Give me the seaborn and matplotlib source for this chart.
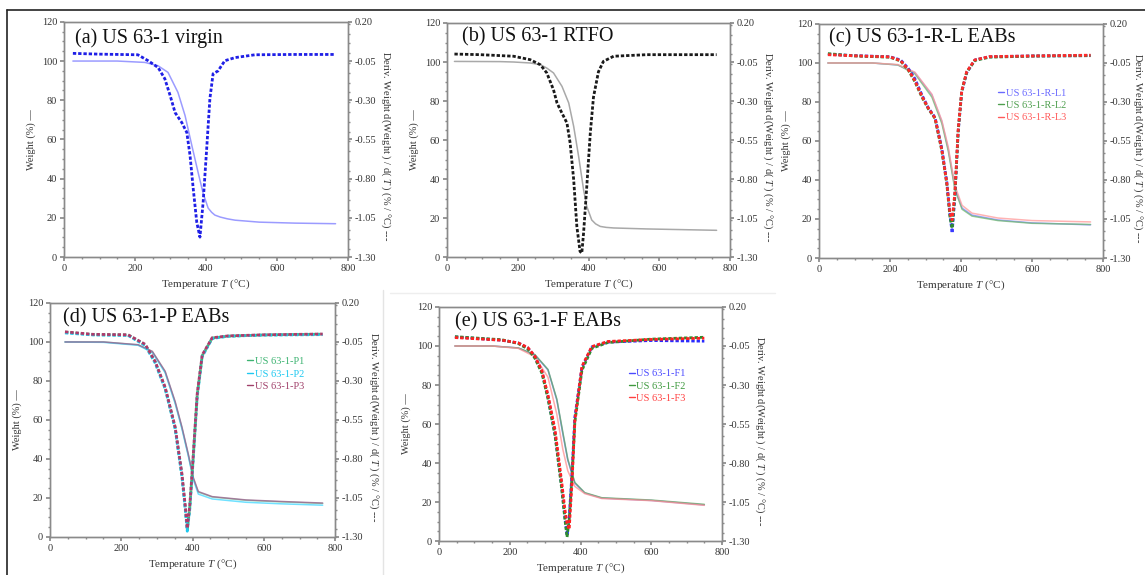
import numpy as np
import matplotlib
matplotlib.use("Agg")
import matplotlib.pyplot as plt
from matplotlib.lines import Line2D
from matplotlib.ticker import MultipleLocator, FormatStrFormatter
import seaborn as sns

# ==========================================
# DATOS LEÍDOS DE LAS CURVAS TGA / DTG
# (peso en %, derivada en %/°C)
# ==========================================

# (a) US 63-1 virgin
t_a_deriv = [25, 100, 208, 237, 265, 284, 299, 313, 332, 346, 355, 364, 374, 383,
             392, 402, 411, 420, 434, 453, 482, 538, 650, 765]
deriv_a = [-0.001, -0.006, -0.010, -0.048, -0.091, -0.163, -0.270, -0.379, -0.443,
           -0.506, -0.651, -0.863, -1.078, -1.173, -0.950, -0.608, -0.290, -0.131,
           -0.113, -0.048, -0.028, -0.010, -0.008, -0.008]
t_a_peso = [25, 150, 228, 265, 293, 321, 341, 360, 378, 392, 406, 416, 425, 440, 460,
            482, 550, 650, 765]
peso_a = [100, 100, 99.3, 97.6, 94.2, 84, 72.2, 57, 43, 32.5, 25, 22.8, 21.4, 20.4,
          19.5, 18.8, 17.8, 17.3, 17]

# (b) US 63-1 RTFO
t_b_deriv = [21, 94, 188, 235, 264, 282, 301, 311, 325, 339, 348, 358, 367, 376,
             381, 386, 395, 405, 414, 428, 442, 471, 565, 762]
deriv_b = [0.001, -0.003, -0.013, -0.035, -0.068, -0.120, -0.228, -0.313, -0.378,
           -0.441, -0.569, -0.804, -1.104, -1.264, -1.275, -1.146, -0.850, -0.505,
           -0.275, -0.113, -0.046, -0.013, -0.003, -0.003]
t_b_peso = [21, 150, 188, 235, 264, 282, 301, 325, 344, 358, 372, 386, 395, 409, 420,
            433, 450, 471, 565, 762]
peso_b = [100.3, 100.2, 100, 99.5, 98.6, 96.9, 94.4, 87.5, 79, 67, 51.6, 34.5, 26, 19,
          17, 15.7, 15.2, 14.9, 14.4, 13.7]

# (c) US 63-1-R-L EABs
t_c_deriv = [25, 100, 200, 230, 251, 270, 290, 308, 327, 346, 360, 369, 375, 383,
             392, 402, 416, 439, 480, 600, 765]
deriv_c_l1 = [0.006, -0.003, -0.010, -0.031, -0.083, -0.150, -0.255, -0.338, -0.400,
              -0.600, -0.813, -1.025, -1.140, -0.900, -0.493, -0.238, -0.113, -0.031,
              -0.010, -0.005, -0.003]
deriv_c_l2 = [0.010, -0.005, -0.013, -0.038, -0.094, -0.169, -0.269, -0.344, -0.406,
              -0.613, -0.825, -1.038, -1.110, -0.888, -0.488, -0.231, -0.110, -0.034,
              -0.013, -0.006, -0.003]
deriv_c_l3 = [0.003, -0.004, -0.011, -0.035, -0.090, -0.163, -0.263, -0.340, -0.403,
              -0.606, -0.819, -1.013, -1.056, -0.875, -0.481, -0.231, -0.106, -0.030,
              -0.009, -0.005, 0.000]
t_c_peso = [25, 100, 150, 222, 270, 318, 346, 364, 383, 403, 431, 504, 600, 765]
peso_c_l1 = [100, 100, 100, 99, 95, 83.6, 70, 56, 36, 25.6, 22, 19.5, 18, 17]
peso_c_l2 = [100, 100, 100, 99, 94.5, 82.5, 69, 55, 35, 25, 21.5, 19.2, 17.8, 17.2]
peso_c_l3 = [100, 100, 100, 99.2, 95.3, 84, 70.5, 57, 37, 27, 23, 20.5, 19.2, 18.5]

# (d) US 63-1-P EABs
t_d_deriv = [42, 120, 219, 267, 295, 323, 351, 370, 380, 385, 392, 399, 413, 427,
             455, 500, 600, 765]
deriv_d_p1 = [0.013, -0.003, -0.005, -0.069, -0.179, -0.345, -0.600, -0.903, -1.125,
              -1.256, -1.113, -0.888, -0.390, -0.138, -0.025, -0.013, -0.005, 0.000]
deriv_d_p2 = [0.008, -0.005, -0.008, -0.073, -0.185, -0.350, -0.606, -0.913, -1.138,
              -1.263, -1.125, -0.900, -0.400, -0.144, -0.028, -0.013, -0.006, -0.003]
deriv_d_p3 = [0.015, -0.001, -0.004, -0.065, -0.175, -0.340, -0.594, -0.894, -1.113,
              -1.244, -1.100, -0.875, -0.381, -0.133, -0.023, -0.011, -0.004, 0.001]
t_d_peso = [42, 150, 247, 287, 323, 351, 370, 388, 402, 416, 455, 550, 650, 765]
peso_d_p1 = [100, 100, 98.5, 95, 84.6, 69, 56, 42, 30, 23, 20.5, 18.8, 18, 17.2]
peso_d_p2 = [100, 99.8, 98.3, 94.7, 84.2, 68.5, 55.5, 41.5, 29.5, 22, 19.5, 17.8, 17, 16.3]
peso_d_p3 = [100, 100, 98.6, 95.2, 85, 69.5, 56.5, 42.5, 30.5, 23.3, 20.7, 19, 18.2, 17.4]

# (e) US 63-1-F EABs
t_e_deriv = [45, 178, 224, 251, 271, 291, 308, 328, 347, 356, 362, 368, 376, 384,
             404, 432, 477, 600, 750]
deriv_e_f1 = [0.008, -0.013, -0.031, -0.063, -0.120, -0.216, -0.375, -0.613, -0.954,
              -1.150, -1.263, -1.150, -0.863, -0.505, -0.188, -0.056, -0.025, -0.015, -0.019]
deriv_e_f2 = [0.010, -0.010, -0.034, -0.069, -0.128, -0.225, -0.388, -0.625, -0.969,
              -1.163, -1.275, -1.163, -0.888, -0.538, -0.206, -0.065, -0.028, -0.006, 0.006]
deriv_e_f3 = [0.004, -0.013, -0.030, -0.060, -0.115, -0.210, -0.363, -0.588, -0.925,
              -1.100, -1.188, -1.225, -0.925, -0.525, -0.181, -0.054, -0.021, -0.008, 0.000]
t_e_peso = [45, 150, 224, 271, 308, 333, 350, 364, 384, 412, 460, 600, 750]
peso_e_f1 = [100, 100, 99, 95.4, 87.7, 72.3, 55, 41.5, 29.7, 24.6, 22, 20.8, 18.5]
peso_e_f2 = [100, 100, 99, 95.6, 88, 72.8, 55.8, 42, 30, 24.8, 22.2, 21, 18.8]
peso_e_f3 = [100, 100, 98.8, 94.5, 84, 65, 47, 36, 28, 24.3, 21.8, 20.7, 18.3]

titulos = ["(a) US 63-1 virgin", "(b) US 63-1 RTFO", "(c) US 63-1-R-L EABs",
           "(d) US 63-1-P EABs", "(e) US 63-1-F EABs"]
nombres_c = ["US 63-1-R-L1", "US 63-1-R-L2", "US 63-1-R-L3"]
nombres_d = ["US 63-1-P1", "US 63-1-P2", "US 63-1-P3"]
nombres_e = ["US 63-1-F1", "US 63-1-F2", "US 63-1-F3"]
ticks_deriv = [0.20, -0.05, -0.30, -0.55, -0.80, -1.05, -1.30]


def preparar_ejes(fig, rect, titulo, pos_titulo, x_der=1.134):
    ax = fig.add_axes(rect)
    ax2 = ax.twinx()
    gris = "#8a8a8a"
    for a in (ax, ax2):
        for s in a.spines.values():
            s.set_color(gris)
            s.set_linewidth(1.0)
        a.tick_params(which="major", direction="out", length=3, color=gris,
                      labelsize=7.5, pad=2, labelcolor="#333333")
        a.tick_params(which="minor", direction="out", length=1.5, color=gris)
    ax.set_xlim(0, 800)
    ax.set_ylim(0, 120)
    ax.xaxis.set_major_locator(MultipleLocator(200))
    ax.xaxis.set_minor_locator(MultipleLocator(50))
    ax.yaxis.set_major_locator(MultipleLocator(20))
    ax.yaxis.set_minor_locator(MultipleLocator(5))
    ax2.set_ylim(-1.30, 0.20)
    ax2.set_yticks(ticks_deriv)
    ax2.yaxis.set_minor_locator(MultipleLocator(0.0625))
    ax2.yaxis.set_major_formatter(FormatStrFormatter("%.2f"))

    ax.set_xlabel(r"Temperature $T$ (°C)", fontsize=8, color="#333333", labelpad=3)
    ax.set_ylabel("Weight (%) —", fontsize=7.5, color="#333333")
    ax.yaxis.set_label_coords(-0.10, 0.5)
    ax2.set_ylabel(r"Deriv. Weight d(Weight ) / d( $T$ ) (% / °C) ---", fontsize=7.5,
                   color="#333333", rotation=270, va="center")
    ax2.yaxis.set_label_coords(x_der, 0.47)
    ax.text(pos_titulo[0], pos_titulo[1], titulo, transform=ax.transAxes,
            fontsize=14.5, va="center", ha="left", color="#111111")
    return ax, ax2


def dibujar(ax, ax2, t_peso, pesos, t_deriv, derivs, colores, colores_peso):
    for w, c in zip(pesos, colores_peso):
        sns.lineplot(x=t_peso, y=w, ax=ax, color=c, lw=1.1, sort=False, alpha=0.75)
    for d, c in zip(derivs, colores):
        sns.lineplot(x=t_deriv, y=d, ax=ax2, color=c, lw=2.0, sort=False,
                     linestyle=(0, (1.2, 0.7)))


def leyenda(ax, nombres, colores, pos):
    handles = [Line2D([0], [0], color=c, lw=1) for c in colores]
    ax.legend(handles, nombres, loc="upper left", bbox_to_anchor=pos, frameon=False,
              fontsize=7.5, handlelength=0.6, handletextpad=0.15, labelspacing=0.3,
              labelcolor=colores, borderaxespad=0, borderpad=0)


def graficar_tga():
    sns.set_theme(style="ticks")
    plt.rcParams["font.family"] = ["Liberation Serif", "DejaVu Serif"]
    plt.rcParams["mathtext.fontset"] = "custom"
    plt.rcParams["mathtext.rm"] = "Liberation Serif"
    plt.rcParams["mathtext.it"] = "Liberation Serif:italic"
    plt.rcParams["axes.unicode_minus"] = False

    fig = plt.figure(figsize=(11.45, 5.75), dpi=100)

    # marco exterior y separaciones tenues de la captura
    fig.add_artist(Line2D([7 / 1145, 1], [1 - 10 / 575] * 2, color="#222222", lw=1.2))
    fig.add_artist(Line2D([7 / 1145] * 2, [0, 1 - 10 / 575], color="#222222", lw=1.2))
    fig.add_artist(Line2D([383 / 1145] * 2, [0, 1 - 290 / 575], color="#e4e4e4", lw=1))
    fig.add_artist(Line2D([390 / 1145, 775 / 1145], [1 - 293 / 575] * 2, color="#eeeeee", lw=1))

    # Panel (a)
    ax, ax2 = preparar_ejes(fig, [0.0559, 0.553, 0.248, 0.409], titulos[0], (0.04, 0.93))
    dibujar(ax, ax2, t_a_peso, [peso_a], t_a_deriv, [deriv_a], ["#1f1fe6"], ["#7a7aff"])

    # Panel (b)
    ax, ax2 = preparar_ejes(fig, [0.3904, 0.553, 0.2472, 0.407], titulos[1], (0.053, 0.94))
    dibujar(ax, ax2, t_b_peso, [peso_b], t_b_deriv, [deriv_b], ["#1a1a1a"], ["#8c8c8c"])

    # Panel (c)
    col_c = ["#3838ff", "#2e8b2e", "#ff2a2a"]
    ax, ax2 = preparar_ejes(fig, [0.7153, 0.5513, 0.248, 0.407], titulos[2], (0.035, 0.94),
                            x_der=1.124)
    dibujar(ax, ax2, t_c_peso, [peso_c_l1, peso_c_l2, peso_c_l3], t_c_deriv,
            [deriv_c_l1, deriv_c_l2, deriv_c_l3], col_c, ["#7f7fff", "#6fb86f", "#ff9a9a"])
    leyenda(ax2, nombres_c, ["#6a6aff", "#4f9f4f", "#ff5a5a"], (0.63, 0.725))

    # Panel (d)
    col_d = ["#3cb371", "#1ec8f0", "#b03a6a"]
    ax, ax2 = preparar_ejes(fig, [0.0437, 0.0661, 0.249, 0.407], titulos[3], (0.046, 0.936))
    dibujar(ax, ax2, t_d_peso, [peso_d_p1, peso_d_p2, peso_d_p3], t_d_deriv,
            [deriv_d_p1, deriv_d_p2, deriv_d_p3], col_d, ["#7fcf9f", "#40d8ff", "#9a5a8a"])
    leyenda(ax2, nombres_d, ["#3cb371", "#1ec8f0", "#a0406a"], (0.69, 0.77))

    # Panel (e)
    col_e = ["#2a2aff", "#2e8b2e", "#ff2020"]
    ax, ax2 = preparar_ejes(fig, [0.3834, 0.0591, 0.2472, 0.407], titulos[4], (0.057, 0.936))
    dibujar(ax, ax2, t_e_peso, [peso_e_f1, peso_e_f2, peso_e_f3], t_e_deriv,
            [deriv_e_f1, deriv_e_f2, deriv_e_f3], col_e, ["#6f6fff", "#5fa85f", "#ff9090"])
    leyenda(ax2, nombres_e, ["#4a4aff", "#3f9a3f", "#ff4040"], (0.67, 0.735))

    fig.savefig("out.png", dpi=100)


if __name__ == "__main__":
    graficar_tga()
